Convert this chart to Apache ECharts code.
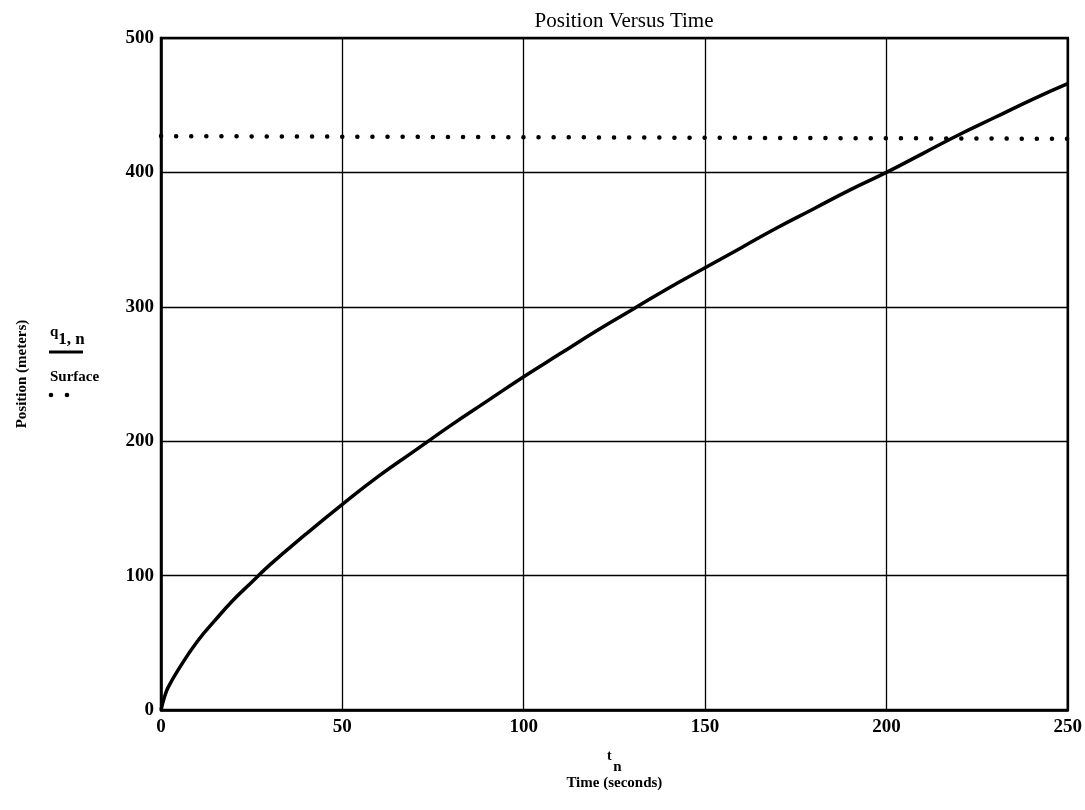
<!DOCTYPE html>
<html><head><meta charset="utf-8">
<script src="https://cdn.jsdelivr.net/npm/echarts@6/dist/echarts.min.js"></script>
<style>html,body{margin:0;padding:0;background:#fff}#c{width:1085px;height:810px}</style>
</head><body><div id="c"></div>
<script>
const timeS = [0,1,2,5,10,15,20,25,30,40,50,60,70,80,90,100,110,120,130,140,150,160,170,180,190,200,210,220,230,240,250];
const positionM = [0,10,17,31,51,67,82,95,108,131,153,174,193,212,230,248,265,282,298,314,329,344,359,373,387,400,414,428,441,454,466];
const surfaceT = [0,250];
const surfaceM = [427,425];
const xTicks = [0,50,100,150,200,250];
const yTicks = [0,100,200,300,400,500];

const FONT = 'Liberation Serif';
const chart = echarts.init(document.getElementById('c'));
chart.setOption({
  animation:false,
  backgroundColor:'#fff',
  title:{text:'Position Versus Time',left:619,top:6,textAlign:'center',
    textStyle:{fontFamily:FONT,fontSize:21,fontWeight:'normal',color:'#000'}},
  grid:{left:161,right:15,top:38,bottom:100,show:true,borderColor:'#000',borderWidth:2.5},
  xAxis:{type:'value',min:0,max:250,interval:50,
    axisLine:{show:true,lineStyle:{color:'#000',width:2.5}},
    axisTick:{show:false},
    splitLine:{show:true,lineStyle:{color:'#000',width:1.3}},
    axisLabel:{fontFamily:FONT,fontSize:19,fontWeight:'bold',color:'#000',margin:8,
      formatter:v=>xTicks.includes(v)?String(v):''},
    name:'{t|t}\n{n|n}\n{l|Time (seconds)}',nameLocation:'middle',nameGap:42,
    nameTextStyle:{rich:{
      t:{fontFamily:FONT,fontSize:14,fontWeight:'bold',color:'#000',lineHeight:8,padding:[0,10,0,0]},
      n:{fontFamily:FONT,fontSize:15,fontWeight:'bold',color:'#000',lineHeight:14,padding:[0,0,0,6]},
      l:{fontFamily:FONT,fontSize:15,fontWeight:'bold',color:'#000',lineHeight:18}}}
  },
  yAxis:{type:'value',min:0,max:500,interval:100,
    axisLine:{show:true,lineStyle:{color:'#000',width:2.5}},
    axisTick:{show:false},
    splitLine:{show:true,lineStyle:{color:'#000',width:1.3}},
    axisLabel:{fontFamily:FONT,fontSize:19,fontWeight:'bold',color:'#000',margin:7,
      formatter:v=>yTicks.includes(v)?String(v):''}
  },
  graphic:[
    {type:'text',x:22,y:374,rotation:Math.PI/2,style:{text:'Position (meters)',fontFamily:FONT,fontSize:15,fontWeight:'bold',fill:'#000',align:'center',verticalAlign:'middle'}},
    {type:'text',x:50,y:325,style:{text:'{q|q}{s|1, n}',rich:{
      q:{fontFamily:FONT,fontSize:15,fontWeight:'bold',fill:'#000',verticalAlign:'top'},
      s:{fontFamily:FONT,fontSize:17,fontWeight:'bold',fill:'#000',padding:[6,0,0,0]}}}},
    {type:'line',shape:{x1:49,y1:352,x2:83,y2:352},style:{stroke:'#000',lineWidth:3}},
    {type:'text',x:50,y:370,style:{text:'Surface',fontFamily:FONT,fontSize:15,fontWeight:'bold',fill:'#000'}},
    {type:'circle',shape:{cx:51,cy:395,r:2.3},style:{fill:'#000'}},
    {type:'circle',shape:{cx:67,cy:395,r:2.3},style:{fill:'#000'}}
  ],
  series:[
    {type:'line',data:timeS.map((t,i)=>[t,positionM[i]]),smooth:0.5,showSymbol:false,
      lineStyle:{color:'#000',width:3.5},z:5},
    {type:'line',data:surfaceT.map((t,i)=>[t,surfaceM[i]]),showSymbol:false,
      lineStyle:{color:'#000',width:4.5,type:[0.1,15],cap:'round'},z:4}
  ]
});
</script></body></html>
